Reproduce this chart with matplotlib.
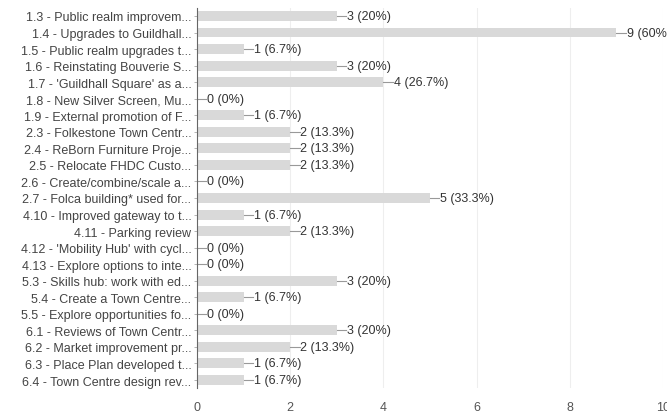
import matplotlib.pyplot as plt

plt.rcParams["font.family"] = ["Liberation Sans", "DejaVu Sans"]

labels = [
    "1.3 - Public realm improvem...",
    "1.4 - Upgrades to Guildhall...",
    "1.5 - Public realm upgrades t...",
    "1.6 - Reinstating Bouverie S...",
    "1.7 - 'Guildhall Square' as a...",
    "1.8 - New Silver Screen, Mu...",
    "1.9 - External promotion of F...",
    "2.3 - Folkestone Town Centr...",
    "2.4 - ReBorn Furniture Proje...",
    "2.5 - Relocate FHDC Custo...",
    "2.6 - Create/combine/scale a...",
    "2.7 - Folca building* used for...",
    "4.10 - Improved gateway to t...",
    "4.11 - Parking review",
    "4.12 - 'Mobility Hub' with cycl...",
    "4.13 - Explore options to inte...",
    "5.3 - Skills hub: work with ed...",
    "5.4 - Create a Town Centre...",
    "5.5 - Explore opportunities fo...",
    "6.1 - Reviews of Town Centr...",
    "6.2 - Market improvement pr...",
    "6.3 - Place Plan developed t...",
    "6.4 - Town Centre design rev...",
]
counts = [3, 9, 1, 3, 4, 0, 1, 2, 2, 2, 0, 5, 1, 2, 0, 0, 3, 1, 0, 3, 2, 1, 1]
pcts = ["20%", "60%", "6.7%", "20%", "26.7%", "0%", "6.7%", "13.3%", "13.3%",
        "13.3%", "0%", "33.3%", "6.7%", "13.3%", "0%", "0%", "20%", "6.7%",
        "0%", "20%", "13.3%", "6.7%", "6.7%"]
xticks = [0, 2, 4, 6, 8, 10]

fig = plt.figure(figsize=(6.67, 4.14), dpi=100)
ax = fig.add_axes([0.2954, 0.0597, 0.6986, 0.9193])

y = list(range(len(labels)))
ax.barh(y, counts, height=0.6, color="#d9d9d9", zorder=2)

for yi, c, p in zip(y, counts, pcts):
    ax.plot([c, c + 0.2], [yi, yi], color="#999999", lw=0.8, zorder=3, clip_on=False)
    ax.text(c + 0.22, yi, f"{c} ({p})", va="center", ha="left", fontsize=9,
            color="#333333", zorder=4, clip_on=False)

ax.set_xlim(0, 10)
ax.set_ylim(len(labels) - 0.5, -0.5)
ax.set_yticks(y)
ax.set_yticklabels(labels, fontsize=9, color="#444444")
ax.set_xticks(xticks)
ax.set_xticklabels([str(t) for t in xticks], fontsize=9, color="#555555")
ax.tick_params(axis="y", length=2, width=0.5, color="#999999", pad=2)
ax.tick_params(axis="x", length=0, pad=9)
ax.grid(axis="x", color="#eeeeee", lw=0.8, zorder=0)

for s in ["top", "right", "bottom"]:
    ax.spines[s].set_visible(False)
ax.spines["left"].set_color("#666666")
ax.spines["left"].set_linewidth(0.8)
ax.spines["left"].set_zorder(5)

fig.savefig("out.png", dpi=100)
